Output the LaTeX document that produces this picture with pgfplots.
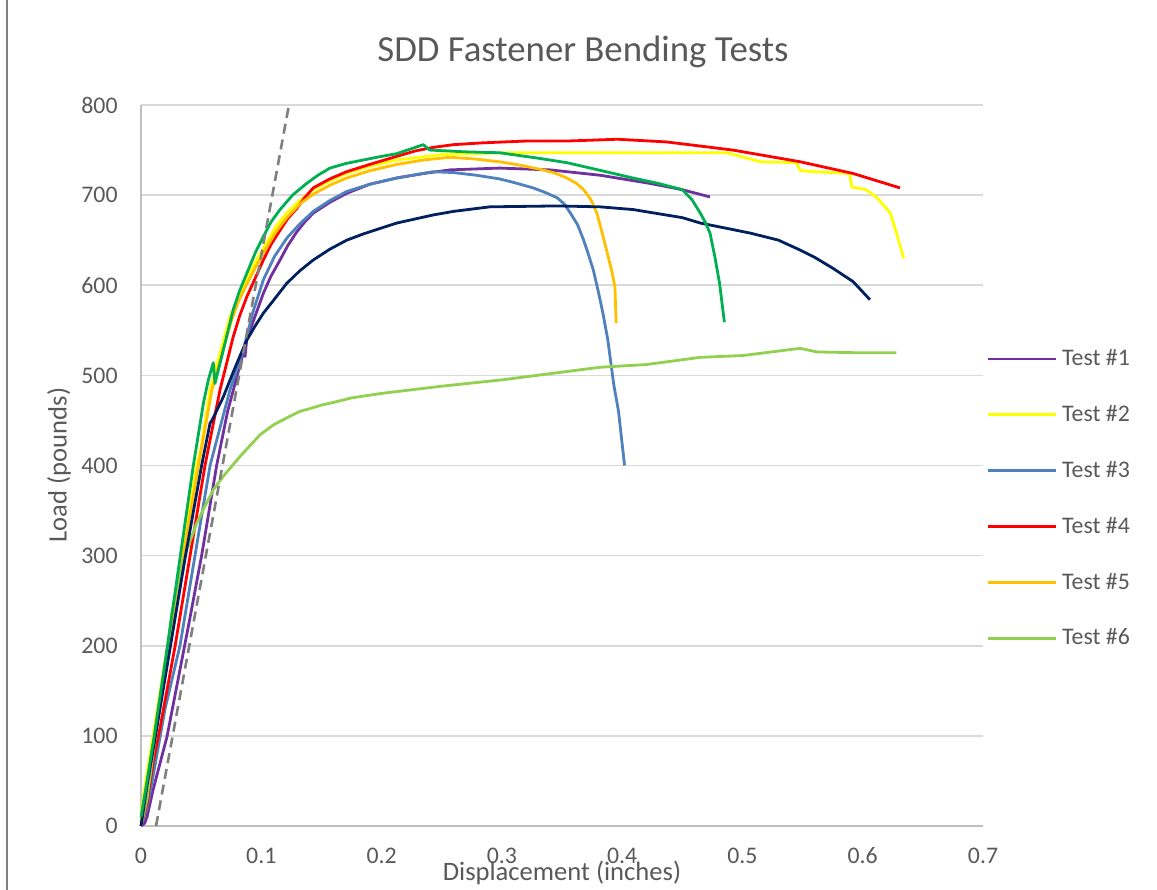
\documentclass[border=0pt]{standalone}
\usepackage{fontspec}
\setmainfont{Carlito}
\usepackage{pgfplots}
\pgfplotsset{compat=1.18}
\definecolor{txtgray}{HTML}{595959}
\definecolor{gridgray}{HTML}{D9D9D9}
\definecolor{axgray}{HTML}{BFBFBF}
\definecolor{cpurple}{HTML}{7030A0}
\definecolor{cyellow}{HTML}{FFFF00}
\definecolor{cblue}{HTML}{4F81BD}
\definecolor{cred}{HTML}{FF0000}
\definecolor{corange}{HTML}{FFC000}
\definecolor{clgreen}{HTML}{92D050}
\definecolor{cnavy}{HTML}{002060}
\definecolor{cgreen}{HTML}{00B050}
\definecolor{cdash}{HTML}{7F7F7F}
\begin{document}
\begin{tikzpicture}[x=1bp,y=1bp]
\path[use as bounding box] (0,0) rectangle (578.5,445);
\draw[color=cdash, line width=0.8bp] (3.5,0) -- (3.5,445);
\node[text=txtgray, font=\fontsize{18.4bp}{22bp}\selectfont] at (291.5,419) {SDD Fastener Bending Tests};
\node[text=txtgray, font=\fontsize{13.3bp}{16bp}\selectfont, rotate=90] at (29.5,212.5) {Load (pounds)};
\node[text=txtgray, font=\fontsize{13.3bp}{16bp}\selectfont, anchor=base] at (281,4.5) {Displacement (inches)};
\begin{axis}[
  at={(70.5bp,32bp)}, anchor=south west,
  scale only axis, width=421bp, height=360.5bp,
  xmin=0, xmax=0.7, ymin=0, ymax=800,
  axis x line=bottom, axis y line=left,
  axis line style={draw=axgray, line width=0.8bp, -},
  xtick={0,0.1,0.2,0.3,0.4,0.5,0.6,0.7},
  xticklabels={0,0.1,0.2,0.3,0.4,0.5,0.6,0.7},
  ytick={0,100,200,300,400,500,600,700,800},
  major tick length=0pt,
  ymajorgrids, grid style={draw=gridgray, line width=0.8bp},
  tick label style={text=txtgray, font=\fontsize{11.9bp}{14bp}\selectfont, inner sep=0pt},
  /pgf/number format/assume math mode=true,
  xticklabel style={anchor=base, yshift=-19bp},
  yticklabel style={anchor=east, xshift=-11.5bp},
  clip=false,
  legend style={at={(1,0.454)}, anchor=west, xshift=1.5bp, draw=none, fill=none,
    font=\fontsize{11.9bp}{14bp}\selectfont, text=txtgray, inner sep=0pt,
    row sep=18.4bp, nodes={inner sep=0pt},
    /tikz/every odd column/.append style={column sep=2.5bp}},
  legend cell align=left,
  legend image code/.code={\draw[#1] (0bp,0bp) -- (34bp,0bp);},
  every axis plot/.append style={line width=1.4bp, line join=round},
]
% Test #1
\addplot[cpurple, mark=none] coordinates {(0,0)(0.003,3)(0.005,10)(0.01,40)(0.0216,99)(0.0393,221)(0.0504,300)(0.0629,400)(0.072,460)(0.08,500)(0.085,525)(0.0865,521)(0.0879,540)(0.1017,591)(0.108,610)(0.1156,628)(0.122,644)(0.1294,659)(0.136,670)(0.1432,680)(0.157,692)(0.171,702)(0.19,712)(0.2126,719)(0.235,724)(0.257,728)(0.298,730)(0.34,728)(0.382,722)(0.423,713)(0.45,706)(0.473,698)};
\addlegendentry{Test \#1}
% Test #2
\addplot[cyellow, mark=none] coordinates {(0,15)(0.004,50)(0.01,100)(0.022,200)(0.034,300)(0.0463,400)(0.05,420)(0.0574,484)(0.074,565)(0.081,587)(0.0879,606)(0.096,628)(0.1045,647)(0.112,665)(0.1211,680)(0.132,694)(0.1432,706)(0.157,716)(0.171,724)(0.19,732)(0.2126,739)(0.25,745)(0.3,747)(0.3815,747)(0.465,747)(0.487,747)(0.515,737)(0.545,736)(0.548,727)(0.589,724)(0.591,709)(0.603,706)(0.612,697)(0.623,680)(0.628,658)(0.634,630)};
\addlegendentry{Test \#2}
% Test #3
\addplot[cblue, mark=none] coordinates {(0,0)(0.005,20)(0.01,55)(0.02,130)(0.0324,200)(0.0449,300)(0.0574,400)(0.074,484)(0.085,528)(0.093,570)(0.1017,606)(0.111,632)(0.1211,652)(0.123,655)(0.132,668)(0.1432,682)(0.157,694)(0.171,704)(0.19,712)(0.2126,719)(0.243,726)(0.26,725)(0.279,722)(0.298,718)(0.31,714)(0.326,708)(0.336,703)(0.346,697)(0.352,690)(0.357,680)(0.363,667)(0.368,650)(0.372,634)(0.376,617)(0.38,594)(0.384,569)(0.388,540)(0.393,490)(0.397,460)(0.402,400)};
\addlegendentry{Test \#3}
% Test #4
\addplot[cred, mark=none] coordinates {(0,0)(0.005,25)(0.01,70)(0.016,110)(0.0284,200)(0.0408,300)(0.0532,400)(0.0657,484)(0.0767,543)(0.082,566)(0.0879,587)(0.095,608)(0.1017,628)(0.108,645)(0.1156,661)(0.122,674)(0.1294,685)(0.136,697)(0.1432,708)(0.157,718)(0.171,726)(0.19,734)(0.2126,743)(0.228,749)(0.243,753)(0.26,756)(0.284,758)(0.32,760)(0.354,760)(0.396,762)(0.437,759)(0.492,750)(0.548,737)(0.592,724)(0.631,708)};
\addlegendentry{Test \#4}
% Test #5
\addplot[corange, mark=none] coordinates {(0,5)(0.005,45)(0.011,100)(0.023,200)(0.035,300)(0.0477,400)(0.059,484)(0.075,560)(0.081,582)(0.0879,601)(0.096,622)(0.1045,642)(0.112,659)(0.1211,675)(0.132,690)(0.1432,701)(0.157,711)(0.171,719)(0.19,727)(0.2126,734)(0.235,739)(0.257,742)(0.278,740)(0.298,737)(0.316,733)(0.334,728)(0.345,724)(0.354,719)(0.362,713)(0.368,706)(0.374,695)(0.379,680)(0.383,660)(0.387,639)(0.391,618)(0.394,598)(0.395,558)};
\addlegendentry{Test \#5}
% Test #6
\addplot[clgreen, mark=none] coordinates {(0,0)(0.005,30)(0.012,100)(0.02,170)(0.0255,236)(0.0324,280)(0.038,306)(0.0463,336)(0.0518,351)(0.0601,373)(0.0684,388)(0.0823,410)(0.0989,434)(0.11,445)(0.12,452)(0.132,460)(0.14,463)(0.15,467)(0.16,470)(0.175,475)(0.2,480)(0.25,488)(0.3,495)(0.3815,509)(0.42,512)(0.465,520)(0.5,522)(0.548,530)(0.562,526)(0.6,525)(0.628,525)};
\addlegendentry{Test \#6}
% unlabeled navy
\addplot[cnavy, mark=none, forget plot] coordinates {(0,0)(0.005,45)(0.012,100)(0.0245,200)(0.037,300)(0.0504,400)(0.0574,447)(0.059,450)(0.0684,476)(0.078,508)(0.0879,539)(0.095,555)(0.1017,569)(0.11,583)(0.1211,602)(0.132,616)(0.1432,628)(0.157,640)(0.171,650)(0.185,657)(0.1987,663)(0.2126,669)(0.243,678)(0.26,682)(0.29,687)(0.346,688)(0.3815,687)(0.409,684)(0.45,675)(0.465,669)(0.506,658)(0.53,650)(0.548,639)(0.56,631)(0.575,619)(0.592,604)(0.606,584)};
% unlabeled green
\addplot[cgreen, mark=none, forget plot] coordinates {(0,10)(0.005,50)(0.011,100)(0.022,200)(0.0327,300)(0.0435,400)(0.052,470)(0.056,495)(0.0601,514)(0.0615,491)(0.0684,528)(0.073,553)(0.0767,573)(0.082,594)(0.0879,613)(0.095,636)(0.1017,654)(0.108,670)(0.1156,684)(0.126,700)(0.1377,713)(0.147,722)(0.1571,730)(0.17,735)(0.1848,739)(0.2,743)(0.2126,746)(0.2347,756)(0.24,750)(0.27,748)(0.298,747)(0.33,741)(0.354,736)(0.38,728)(0.409,719)(0.43,713)(0.45,706)(0.458,695)(0.465,680)(0.469,670)(0.473,658)(0.477,632)(0.481,602)(0.485,559)};
% dashed elastic line
\addplot[cdash, mark=none, forget plot, line width=1.3bp, dash pattern=on 5bp off 3bp] coordinates {(0.0125,0)(0.123,800)};
\end{axis}
\end{tikzpicture}
\end{document}
